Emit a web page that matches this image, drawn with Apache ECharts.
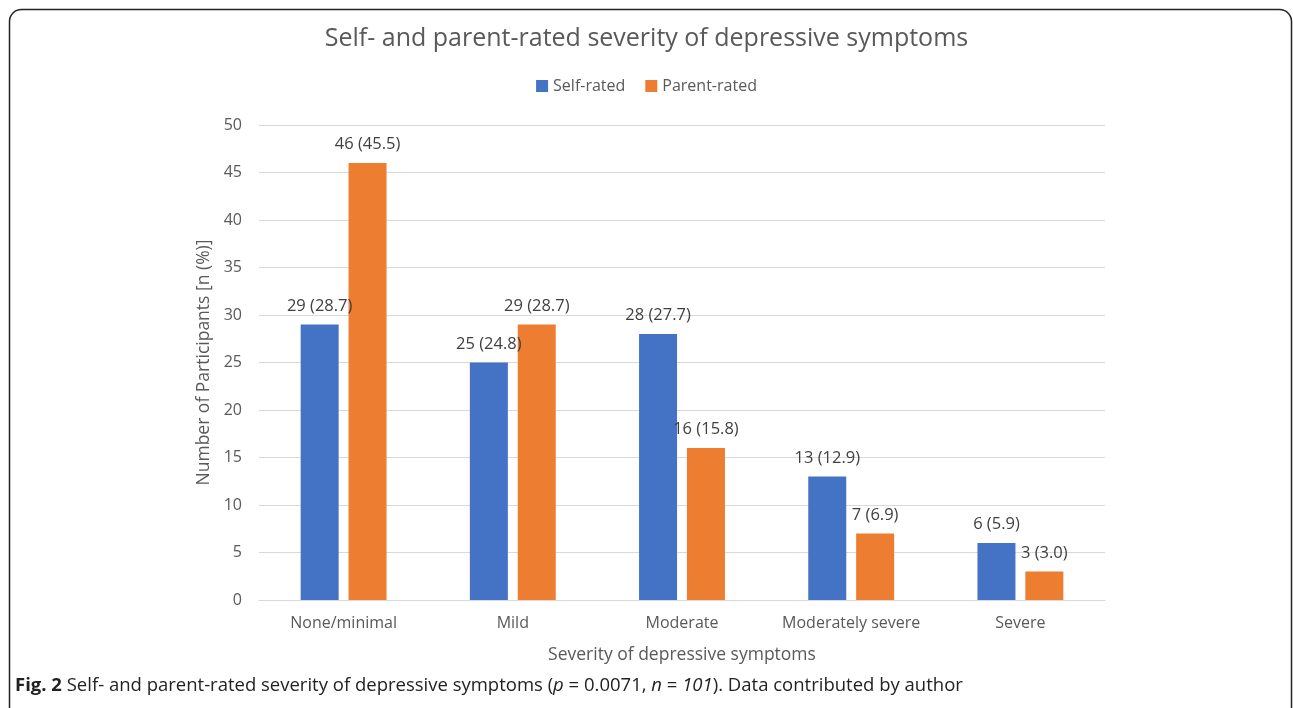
<!DOCTYPE html>
<html>
<head>
<meta charset="utf-8">
<script src="https://cdn.jsdelivr.net/npm/echarts@6/dist/echarts.min.js"></script>
<style>
  html, body { margin: 0; padding: 0; background: #fff; }
  #chart { width: 1293px; height: 708px; }
</style>
</head>
<body>
<div id="chart"></div>
<script>
// Severity categories and participant counts with percentages
const categories = ['None/minimal', 'Mild', 'Moderate', 'Moderately severe', 'Severe'];
const selfCounts = [29, 25, 28, 13, 6];
const selfPercents = ['28.7', '24.8', '27.7', '12.9', '5.9'];
const parentCounts = [46, 29, 16, 7, 3];
const parentPercents = ['45.5', '28.7', '15.8', '6.9', '3.0'];
const yTicks = { min: 0, max: 50, interval: 5 };

const FONT = '"Open Sans", "Liberation Sans", sans-serif';
const chart = echarts.init(document.getElementById('chart'));

function barLabel(percents) {
  return {
    show: true,
    position: 'top',
    distance: 10,
    color: '#404040',
    fontFamily: FONT,
    fontSize: 16.5,
    formatter: p => p.value + ' (' + percents[p.dataIndex] + ')'
  };
}

chart.setOption({
  animation: false,
  backgroundColor: '#fff',
  title: {
    text: 'Self- and parent-rated severity of depressive symptoms',
    left: 'center',
    top: 21,
    textStyle: { color: '#595959', fontFamily: FONT, fontSize: 25, fontWeight: 'normal' }
  },
  legend: {
    top: 73,
    left: 'center',
    itemWidth: 12,
    itemHeight: 12,
    itemGap: 20,
    icon: 'rect',
    textStyle: { color: '#595959', fontFamily: FONT, fontSize: 16 },
    data: ['Self-rated', 'Parent-rated']
  },
  grid: { left: 259, right: 188, top: 125, bottom: 108, containLabel: false },
  xAxis: {
    type: 'category',
    data: categories,
    name: 'Severity of depressive symptoms',
    nameLocation: 'middle',
    nameGap: 46,
    nameTextStyle: { color: '#595959', fontFamily: FONT, fontSize: 17.5 },
    axisLine: { lineStyle: { color: '#d9d9d9', width: 1 } },
    axisTick: { show: false },
    axisLabel: { color: '#595959', fontFamily: FONT, fontSize: 16, margin: 15, interval: 0 }
  },
  yAxis: {
    type: 'value',
    min: yTicks.min,
    max: yTicks.max,
    interval: yTicks.interval,
    name: 'Number of Participants [n (%)]',
    nameLocation: 'middle',
    nameGap: 39,
    nameTextStyle: { color: '#595959', fontFamily: FONT, fontSize: 17.5 },
    axisLine: { show: false },
    axisTick: { show: false },
    axisLabel: { color: '#595959', fontFamily: FONT, fontSize: 16, margin: 17 },
    splitLine: { lineStyle: { color: '#d9d9d9', width: 1 } }
  },
  series: [
    {
      name: 'Self-rated',
      type: 'bar',
      data: selfCounts,
      barWidth: 38,
      barGap: '26%',
      itemStyle: { color: '#4472C4' },
      label: barLabel(selfPercents)
    },
    {
      name: 'Parent-rated',
      type: 'bar',
      data: parentCounts,
      barWidth: 38,
      barGap: '26%',
      itemStyle: { color: '#ED7D31' },
      label: barLabel(parentPercents)
    }
  ],
  graphic: [
    {
      type: 'rect',
      silent: true,
      shape: { x: 9.5, y: 9.5, width: 1282, height: 730, r: 12 },
      style: { fill: null, stroke: '#222', lineWidth: 1.5 }
    },
    {
      type: 'text',
      left: 15,
      top: 676,
      style: {
        text: '{b|Fig. 2} Self- and parent-rated severity of depressive symptoms ({i|p} = 0.0071, {i|n} = {i|101}). Data contributed by author',
        fill: '#222',
        fontFamily: FONT,
        fontSize: 18.5,
        rich: {
          b: { fontWeight: 'bold', fontFamily: FONT, fontSize: 18.5, fill: '#222' },
          i: { fontStyle: 'italic', fontFamily: FONT, fontSize: 18.5, fill: '#222' }
        }
      }
    }
  ]
});
</script>
</body>
</html>
